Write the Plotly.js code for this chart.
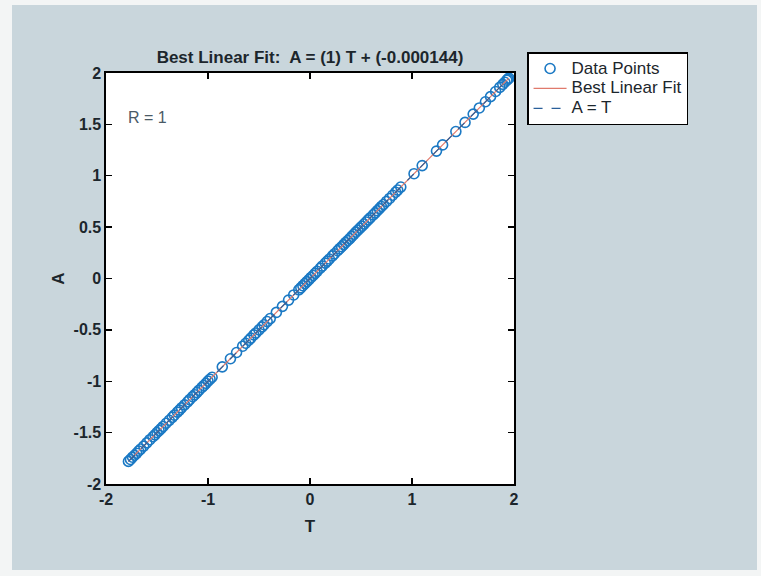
<!DOCTYPE html>
<html>
<head>
<meta charset="utf-8">
<script src="https://cdn.plot.ly/plotly-3.0.1.min.js"></script>
<style>
  html, body { margin: 0; padding: 0; background: #f3f5f5; }
  #chart { width: 761px; height: 576px; }
</style>
</head>
<body>
<div id="chart"></div>
<script>
// Targets (T) and network outputs (A)
const targets = [
  -1.78, -1.76, -1.74, -1.72, -1.70, -1.68, -1.66, -1.63, -1.60, -1.57,
  -1.54, -1.52, -1.50, -1.48, -1.46, -1.44, -1.41, -1.38, -1.35, -1.33,
  -1.30, -1.28, -1.26, -1.23, -1.20, -1.18, -1.15, -1.13, -1.11, -1.09,
  -1.06, -1.04, -1.02, -1.00, -0.98, -0.96,
  -0.86, -0.78, -0.72, -0.66,
  -0.63, -0.60, -0.58, -0.55, -0.53, -0.50, -0.47, -0.45, -0.42, -0.39,
  -0.33, -0.27, -0.21, -0.16,
  -0.11, -0.09, -0.07, -0.05, -0.03, -0.01, 0.01, 0.03, 0.05, 0.07,
  0.10, 0.12, 0.15, 0.17, 0.19, 0.22, 0.24, 0.27, 0.29, 0.31,
  0.33, 0.35, 0.37, 0.39, 0.41, 0.43, 0.45, 0.47, 0.49, 0.51,
  0.53, 0.55, 0.57, 0.59, 0.62, 0.64, 0.66, 0.68, 0.70, 0.72,
  0.75, 0.78, 0.81, 0.84, 0.86, 0.89,
  1.02, 1.10, 1.24, 1.30, 1.43, 1.52, 1.60, 1.66, 1.72, 1.77,
  1.82, 1.86, 1.89, 1.91, 1.93, 1.94, 1.95
];
const outputs = [
  -1.780, -1.761, -1.739, -1.720, -1.701, -1.679, -1.660, -1.631, -1.600, -1.569,
  -1.540, -1.521, -1.499, -1.480, -1.461, -1.440, -1.409, -1.380, -1.351, -1.330,
  -1.300, -1.281, -1.259, -1.230, -1.200, -1.179, -1.150, -1.131, -1.110, -1.089,
  -1.060, -1.041, -1.020, -0.999, -0.980, -0.961,
  -0.860, -0.781, -0.720, -0.659,
  -0.630, -0.601, -0.580, -0.549, -0.530, -0.500, -0.471, -0.450, -0.419, -0.390,
  -0.330, -0.271, -0.210, -0.160,
  -0.110, -0.091, -0.070, -0.049, -0.030, -0.010, 0.010, 0.029, 0.050, 0.070,
  0.100, 0.121, 0.150, 0.169, 0.190, 0.220, 0.241, 0.270, 0.290, 0.309,
  0.330, 0.351, 0.370, 0.389, 0.410, 0.430, 0.451, 0.470, 0.490, 0.509,
  0.530, 0.550, 0.571, 0.590, 0.620, 0.639, 0.660, 0.680, 0.701, 0.720,
  0.750, 0.779, 0.810, 0.840, 0.861, 0.890,
  1.020, 1.099, 1.240, 1.300, 1.430, 1.519, 1.600, 1.660, 1.720, 1.770,
  1.820, 1.860, 1.890, 1.910, 1.930, 1.940, 1.950
];

// Linear fit A = m*T + b
const fitSlope = 1;
const fitIntercept = -0.000144;
const rValue = 1;

const seriesNames = ['Data Points', 'Best Linear Fit', 'A = T'];

const axisTicksX = [-2, -1, 0, 1, 2];
const axisTickTextX = ['-2', '-1', '0', '1', '2'];
const axisTicksY = [-2, -1.5, -1, -0.5, 0, 0.5, 1, 1.5, 2];
const axisTickTextY = ['-2', '-1.5', '-1', '-0.5', '0', '0.5', '1', '1.5', '2'];

const tMin = Math.min(...targets);
const tMax = Math.max(...targets);
const lineX = [tMin, tMax];

const inkColor = '#1c262c';
const fontFamily = '"Liberation Sans", Arial, sans-serif';

// legend rows are spaced by the legend font size; entry text is set larger
const legendLabel = s => '<span style="font-size:17px">' + s + '</span>';

const traces = [
  {
    type: 'scatter', mode: 'markers', name: legendLabel(seriesNames[0]),
    x: targets, y: outputs,
    marker: { symbol: 'circle-open', size: 10, color: '#1b79c4', line: { width: 1.6, color: '#1b79c4' } }
  },
  {
    type: 'scatter', mode: 'lines', name: legendLabel(seriesNames[1]),
    x: lineX, y: lineX.map(t => fitSlope * t + fitIntercept),
    line: { color: '#e07a6c', width: 1.2 }
  },
  {
    type: 'scatter', mode: 'lines', name: legendLabel(seriesNames[2]),
    x: lineX, y: lineX,
    line: { color: '#2a5f9a', width: 1.2, dash: 'dash' }
  }
];

const layout = {
  width: 761, height: 576,
  margin: { l: 106, r: 247, t: 73, b: 92 },
  paper_bgcolor: '#f3f5f5',
  plot_bgcolor: 'rgba(0,0,0,0)',
  font: { family: fontFamily, size: 15, color: inkColor },
  title: {
    text: 'Best Linear Fit:  A = (' + fitSlope + ') T + (' + fitIntercept + ')',
    font: { family: fontFamily, size: 17, color: inkColor, weight: 'bold' },
    x: 0.5, xref: 'paper', xanchor: 'center',
    y: 1 - 57 / 576, yref: 'container', yanchor: 'middle'
  },
  xaxis: {
    range: [-2, 2], tickvals: axisTicksX, ticktext: axisTickTextX,
    ticks: 'inside', ticklen: 6, tickcolor: '#000', tickwidth: 1.3,
    showgrid: false, zeroline: false,
    showline: true, linecolor: '#000', linewidth: 1.6, mirror: 'ticks',
    tickfont: { size: 16, color: inkColor, weight: 'bold' },
    title: { text: 'T', font: { size: 17, color: inkColor, weight: 'bold' }, standoff: 13 }
  },
  yaxis: {
    range: [-2, 2], tickvals: axisTicksY, ticktext: axisTickTextY,
    ticks: 'inside', ticklen: 6, tickcolor: '#000', tickwidth: 1.3,
    showgrid: false, zeroline: false,
    showline: true, linecolor: '#000', linewidth: 1.6, mirror: 'ticks',
    tickfont: { size: 16, color: inkColor, weight: 'bold' },
    title: { text: 'A', font: { size: 17, color: inkColor, weight: 'bold' }, standoff: 4 }
  },
  legend: {
    x: 1.032, y: 1.051, xanchor: 'left', yanchor: 'top',
    bgcolor: '#ffffff', bordercolor: '#000', borderwidth: 1.5,
    font: { size: 13, color: inkColor }, itemwidth: 33
  },
  showlegend: true,
  annotations: [
    {
      x: -1.8, y: 1.57, xref: 'x', yref: 'y', xanchor: 'left', yanchor: 'middle',
      text: 'R = ' + rValue, showarrow: false,
      font: { size: 16, color: '#4a5a66' }
    }
  ],
  shapes: [
    // grey backdrop around the axes
    { type: 'rect', xref: 'paper', yref: 'paper', layer: 'below',
      x0: -0.2304, x1: 1.5956, y0: -0.2092, y1: 1.1655,
      fillcolor: '#c9d6dc', line: { width: 0 } },
    // white axes area
    { type: 'rect', xref: 'paper', yref: 'paper', layer: 'below',
      x0: 0, x1: 1, y0: 0, y1: 1,
      fillcolor: '#ffffff', line: { width: 0 } }
  ]
};

Plotly.newPlot('chart', traces, layout, { displayModeBar: false, staticPlot: true });
</script>
</body>
</html>
